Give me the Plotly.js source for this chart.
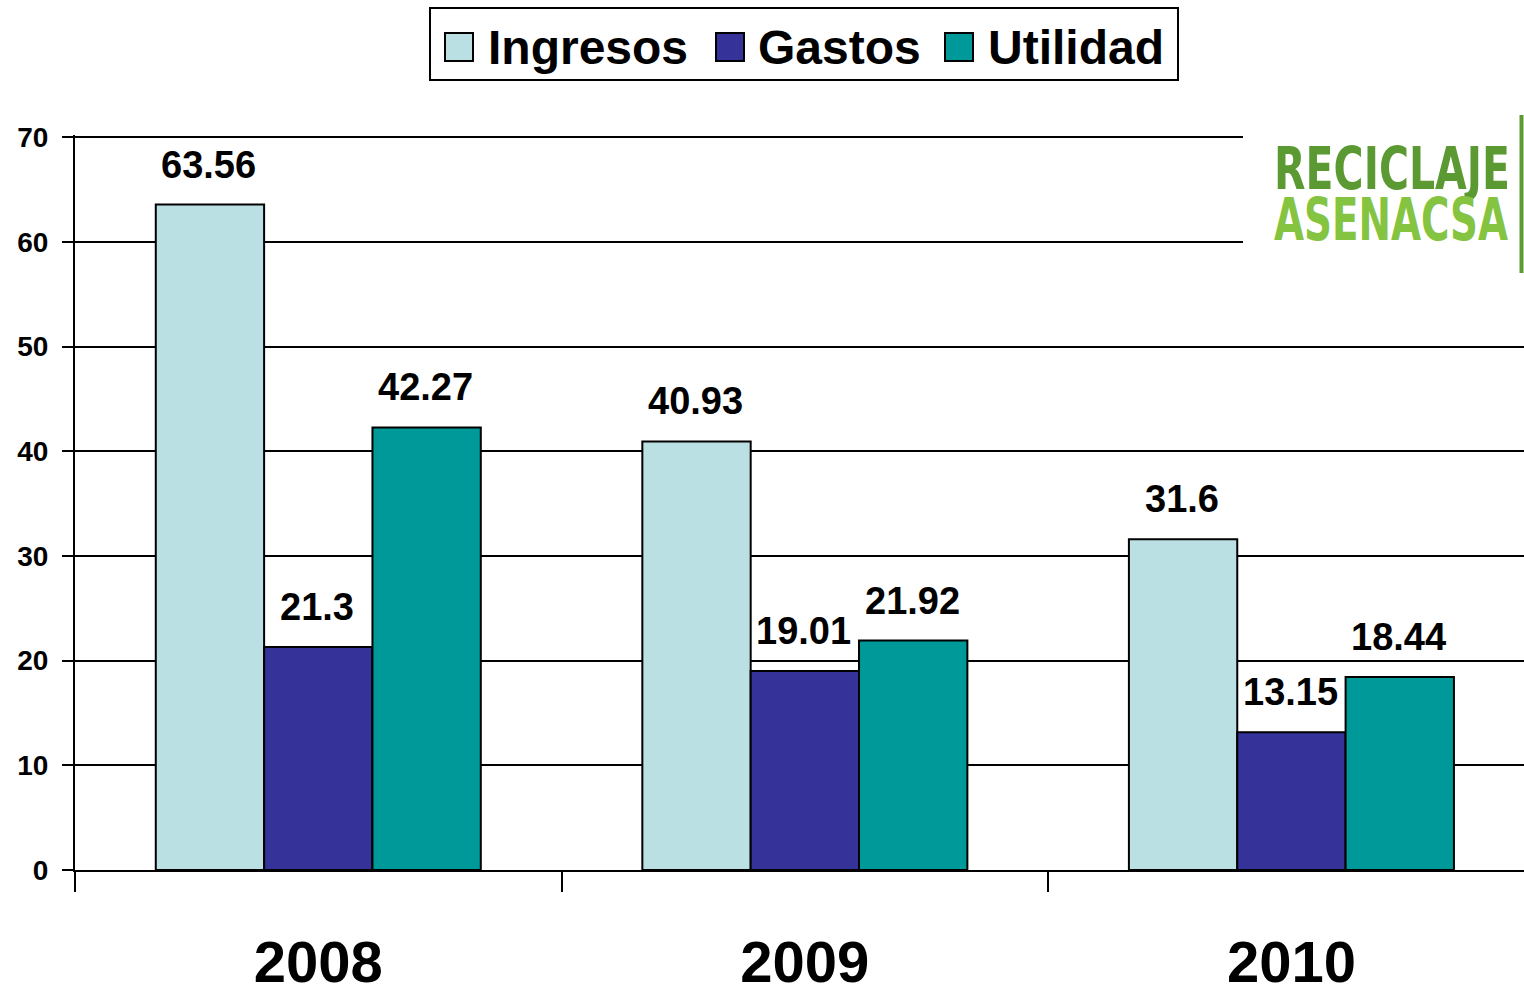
<!DOCTYPE html>
<html><head><meta charset="utf-8">
<script src="https://cdn.plot.ly/plotly-3.0.1.min.js"></script>
<style>body{margin:0;background:#fff}#c{width:1524px;height:984px}</style>
</head><body><div id="c"></div>
<script>
var years = ['2008', '2009', '2010'];
var seriesNames = ['Ingresos', 'Gastos', 'Utilidad'];
var ingresos = [63.56, 40.93, 31.6];
var gastos = [21.3, 19.01, 13.15];
var utilidad = [42.27, 21.92, 18.44];
var colors = ['#BAE0E3', '#353399', '#009999'];
var seriesValues = [ingresos, gastos, utilidad];

var L = 75, R = 1524, T = 135, B = 870;
var YMAX = 70.2;
function px(x) { return (x - L) / (R - L); }
function py(y) { return (B - y) / (B - T); }
var FONT = 'Arial, "Liberation Sans", Helvetica, sans-serif';

var traces = seriesValues.map(function (vals, i) {
  return {
    type: 'bar', name: seriesNames[i], x: years, y: vals,
    marker: { color: colors[i], line: { color: '#000', width: 2 } },
    showlegend: false, hoverinfo: 'x+y+name'
  };
});

var annotations = [];
var barPx = 108.5;
seriesValues.forEach(function (vals, i) {
  vals.forEach(function (v, j) {
    annotations.push({
      x: j, y: v, xref: 'x', yref: 'y', text: String(v), showarrow: false,
      xshift: (i - 1) * barPx - 1, yshift: 17, yanchor: 'bottom', xanchor: 'center',
      font: { family: FONT, size: 38, color: '#000', weight: 'bold' }
    });
  });
});

// legend (manual, large symbols)
var shapes = [];
shapes.push({ type: 'rect', xref: 'paper', yref: 'paper', x0: px(430), x1: px(1178), y0: py(80), y1: py(8),
  line: { color: '#000', width: 2 }, fillcolor: '#fff', layer: 'above' });
var legItems = [{ sx: 445, tx: 486 }, { sx: 716, tx: 756 }, { sx: 945, tx: 986 }];
legItems.forEach(function (it, i) {
  shapes.push({ type: 'rect', xref: 'paper', yref: 'paper', x0: px(it.sx), x1: px(it.sx + 28), y0: py(61), y1: py(33),
    line: { color: '#000', width: 2 }, fillcolor: colors[i], layer: 'above' });
  annotations.push({ xref: 'paper', yref: 'paper', x: px(it.tx), y: py(47), xanchor: 'left', yanchor: 'middle',
    text: seriesNames[i], showarrow: false, font: { family: FONT, size: 48, color: '#000', weight: 'bold' } });
});

// logo
shapes.push({ type: 'rect', xref: 'paper', yref: 'paper', x0: px(1243), x1: 1.01, y0: py(276), y1: py(110),
  line: { width: 0 }, fillcolor: '#fff', layer: 'above' });
shapes.push({ type: 'line', xref: 'paper', yref: 'paper', x0: px(1521.5), x1: px(1521.5), y0: py(273), y1: py(115),
  line: { color: '#5C9B34', width: 4 }, layer: 'above' });
var LOGOFONT = '"DejaVu Sans", sans-serif';
var logoStart = annotations.length;
annotations.push({ xref: 'paper', yref: 'paper', x: px(1392), y: py(169), xanchor: 'center', yanchor: 'middle',
  text: 'RECICLAJE', showarrow: false, font: { family: LOGOFONT, size: 58, color: '#5B9A32', weight: 'bold' } });
annotations.push({ xref: 'paper', yref: 'paper', x: px(1391), y: py(220), xanchor: 'center', yanchor: 'middle',
  text: 'ASENACSA', showarrow: false, font: { family: LOGOFONT, size: 58, color: '#84C441', weight: 'bold' } });

var layout = {
  width: 1524, height: 984,
  margin: { l: L, r: 1524 - R, t: T, b: 984 - B, pad: 0 },
  paper_bgcolor: '#fff', plot_bgcolor: '#fff',
  barmode: 'group', bargap: 0.332, bargroupgap: 0,
  showlegend: false,
  xaxis: {
    type: 'category', range: [-0.5, 2.478], showgrid: false, showline: true, linecolor: '#000', linewidth: 2,
    ticks: 'outside', tickson: 'boundaries', ticklen: 20, tickwidth: 2, tickcolor: '#000',
    tickfont: { family: FONT, size: 58, color: '#000', weight: 'bold' }, ticklabelstandoff: 40, fixedrange: true
  },
  yaxis: {
    range: [0, YMAX], dtick: 10, tick0: 0, showgrid: true, gridcolor: '#000', gridwidth: 2, zeroline: false,
    showline: true, linecolor: '#000', linewidth: 2, ticks: 'outside', ticklen: 11, tickwidth: 2, tickcolor: '#000',
    tickfont: { family: FONT, size: 28, color: '#000', weight: 'bold' }, ticklabelstandoff: 8, fixedrange: true
  },
  shapes: shapes, annotations: annotations
};
Plotly.newPlot('c', traces, layout, { displayModeBar: false, staticPlot: true }).then(function () {
  var texts = document.querySelectorAll('#c .annotation');
  [logoStart, logoStart + 1].forEach(function (k, n) {
    var g = texts[k];
    if (!g) return;
    var t = g.querySelector('text.annotation-text');
    if (!t) return;
    t.setAttribute('textLength', n === 0 ? 236 : 234);
    t.setAttribute('lengthAdjust', 'spacingAndGlyphs');
  });
});
</script></body></html>
